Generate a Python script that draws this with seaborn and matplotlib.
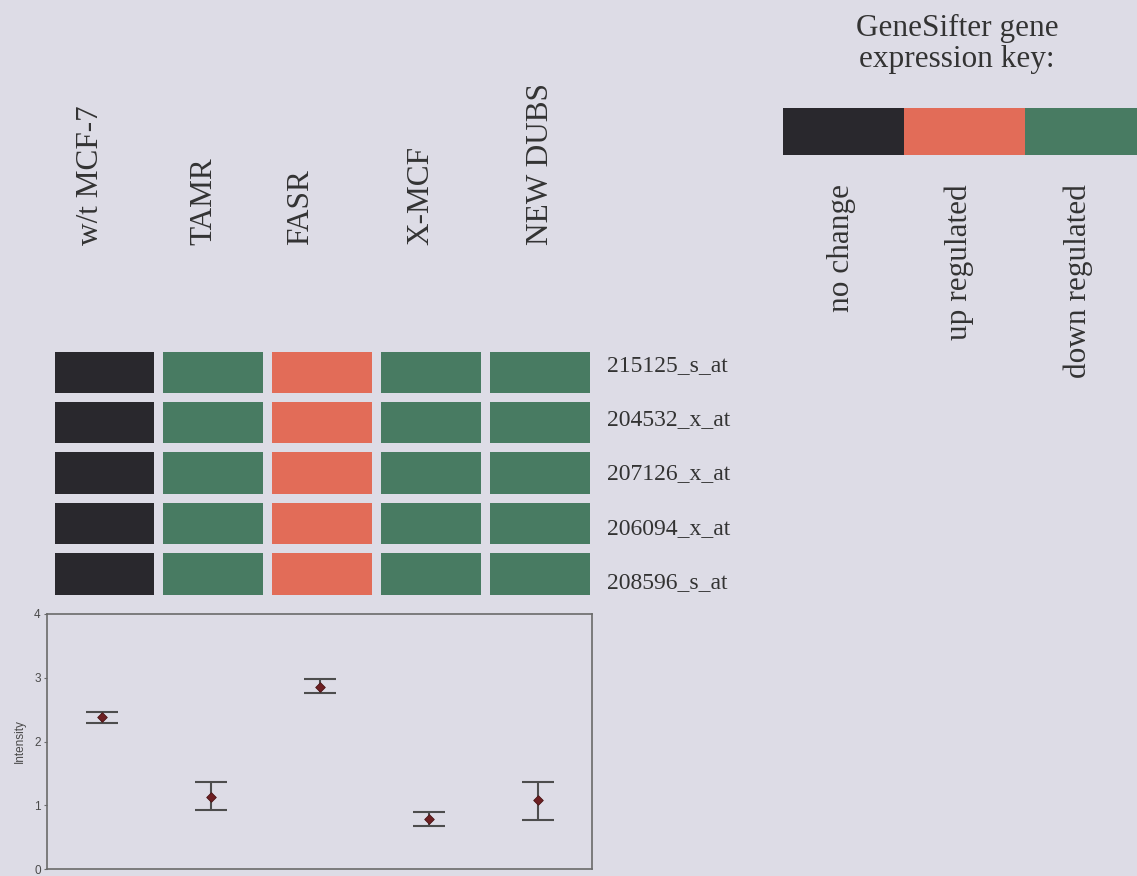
import numpy as np
import pandas as pd
import matplotlib
matplotlib.use("Agg")
import matplotlib.pyplot as plt
from matplotlib.colors import ListedColormap
import seaborn as sns

# ---- data -------------------------------------------------------------
cell_lines = ["w/t MCF-7", "TAMR", "FASR", "X-MCF", "NEW DUBS"]
probes = ["215125_s_at", "204532_x_at", "207126_x_at", "206094_x_at", "208596_s_at"]

# GeneSifter call per probe (rows) and cell line (columns)
# 0 = no change, 1 = up regulated, 2 = down regulated
calls = [
    [0, 2, 1, 2, 2],
    [0, 2, 1, 2, 2],
    [0, 2, 1, 2, 2],
    [0, 2, 1, 2, 2],
    [0, 2, 1, 2, 2],
]

key_labels = ["no change", "up regulated", "down regulated"]
key_codes = [0, 1, 2]

# mean intensity with lower / upper error limits per cell line
intensity_mean = [2.38, 1.13, 2.86, 0.79, 1.08]
intensity_low = [2.29, 0.92, 2.76, 0.67, 0.77]
intensity_high = [2.47, 1.36, 2.98, 0.90, 1.37]

# ---- style ------------------------------------------------------------
BG = "#dddce6"
TXT = "#333333"
call_colors = ["#29282d", "#e26c58", "#487b62"]
cmap = ListedColormap(call_colors)

sns.set_style("white")
plt.rcParams["font.family"] = ["Liberation Serif", "DejaVu Serif"]

W, H = 1137, 876
fig = plt.figure(figsize=(W / 100, H / 100), dpi=100, facecolor=BG)


def box(x0, y0, x1, y1):
    """Axes rectangle from pixel edges measured from the top-left corner."""
    return [x0 / W, 1 - y1 / H, (x1 - x0) / W, (y1 - y0) / H]


# ---- heatmap of expression calls --------------------------------------
ax = fig.add_axes(box(49.5, 346.5, 593.5, 598.5))
calls_df = pd.DataFrame(calls, index=probes, columns=cell_lines)
sns.heatmap(calls_df, ax=ax, cmap=cmap, vmin=-0.5, vmax=2.5, cbar=False,
            linewidths=5.2, linecolor=BG, xticklabels=False, yticklabels=False)
ax.set_facecolor(BG)
ax.set_xlabel("")
ax.set_ylabel("")

# probe names to the right of the rows
probe_y = [366, 420, 474, 529, 583]
for name, py in zip(probes, probe_y):
    fig.text(607 / W, 1 - py / H, name, ha="left", va="center",
             fontsize=17, color=TXT)

# column headers, rotated
header_x = [91, 204, 301, 421, 541]
for name, hx in zip(cell_lines, header_x):
    fig.text(hx / W, 1 - 245 / H, name, rotation=90, ha="center", va="bottom",
             fontsize=22.5, color=TXT)

# ---- colour key -------------------------------------------------------
kax = fig.add_axes(box(783, 108, 1146, 155))
sns.heatmap(pd.DataFrame([key_codes], columns=key_labels), ax=kax, cmap=cmap,
            vmin=-0.5, vmax=2.5, cbar=False, xticklabels=False,
            yticklabels=False)
kax.set_xlabel("")
kax.set_ylabel("")

fig.text(957 / W, 1 - 44 / H, "GeneSifter gene\nexpression key:",
         ha="center", va="center", fontsize=22.5, color=TXT, linespacing=1.1)

key_x = [841, 959, 1078]
for name, kx in zip(key_labels, key_x):
    fig.text(kx / W, 1 - 184 / H, name, rotation=90, ha="center", va="top",
             fontsize=22.5, color=TXT)

# ---- intensity plot ---------------------------------------------------
ax2 = fig.add_axes(box(47, 614, 592, 869))
ax2.set_facecolor(BG)
mean = np.array(intensity_mean)
low = np.array(intensity_low)
high = np.array(intensity_high)
sns.scatterplot(x=cell_lines, y=intensity_mean, marker="D", s=24,
                color="#6e1f22", edgecolor="#4a1516", linewidth=0.6,
                ax=ax2, zorder=3)
ax2.errorbar(np.arange(len(cell_lines)), mean, yerr=[mean - low, high - mean],
             fmt="none", ecolor="#4d4d4d", elinewidth=1.5, capsize=11.2,
             capthick=1.5, zorder=2)
ax2.set_xlim(-0.5, len(cell_lines) - 0.5)
ax2.set_ylim(0, 4)
ax2.set_yticks([0, 1, 2, 3, 4])
ax2.set_xticks([])
for s in ax2.spines.values():
    s.set_color("#6a6a6a")
    s.set_linewidth(1.2)
ax2.tick_params(axis="y", left=True, length=2.5, width=0.8, color="#6a6a6a",
                pad=2, labelsize=8.5, labelcolor="#4a4a4a")
for lbl in ax2.get_yticklabels():
    lbl.set_fontfamily(["Liberation Sans"])
ax2.set_ylabel("Intensity", fontsize=8.5, color="#4a4a4a",
               family=["Liberation Sans"], labelpad=6)

fig.savefig("out.png", dpi=100, facecolor=BG)
